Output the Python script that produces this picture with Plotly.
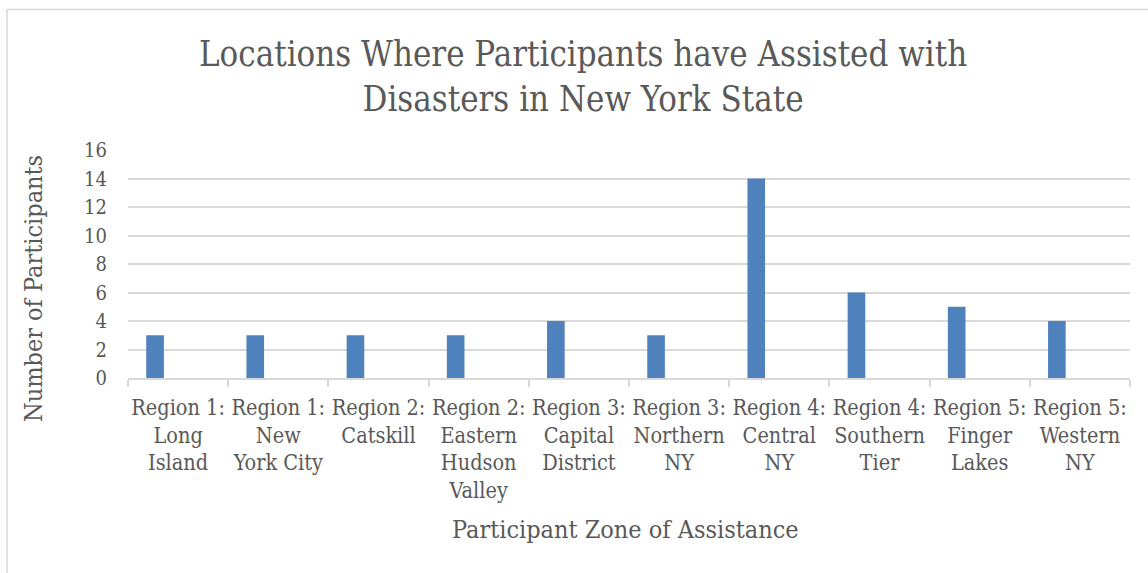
import plotly.graph_objects as go

categories = [
    "Region 1:<br>Long<br>Island",
    "Region 1:<br>New<br>York City",
    "Region 2:<br>Catskill",
    "Region 2:<br>Eastern<br>Hudson<br>Valley",
    "Region 3:<br>Capital<br>District",
    "Region 3:<br>Northern<br>NY",
    "Region 4:<br>Central<br>NY",
    "Region 4:<br>Southern<br>Tier",
    "Region 5:<br>Finger<br>Lakes",
    "Region 5:<br>Western<br>NY",
]
participants = [3, 3, 3, 3, 4, 3, 14, 6, 5, 4]
y_ticks = [0, 2, 4, 6, 8, 10, 12, 14, 16]

FONT = "DejaVu Serif Condensed, DejaVu Serif, Liberation Serif, serif"
TXT = "#595959"
GRID = "#d9d9d9"

fig = go.Figure()
fig.add_trace(go.Bar(
    x=categories, y=participants,
    marker=dict(color="#4f81bd", line=dict(width=0)),
    offset=-0.318, width=0.176,
    hoverinfo="x+y",
))

W, H = 1148, 573
L, R, T, B = 128, 18, 150, 195
pw, ph = W - L - R, H - T - B

def px(x):
    return (x - L) / pw

def py(y):
    return (H - B - y) / ph

fig.update_layout(
    width=W, height=H,
    margin=dict(l=L, r=R, t=T, b=B),
    paper_bgcolor="white", plot_bgcolor="white",
    showlegend=False,
    font=dict(family=FONT, color=TXT),
    xaxis=dict(
        type="category",
        tickson="boundaries",
        ticks="outside", ticklen=7, tickcolor=GRID, tickwidth=1.5,
        showline=True, linecolor=GRID, linewidth=1.5,
        showgrid=False,
        tickfont=dict(size=21.5, color=TXT, family=FONT),
        tickangle=0,
        ticklabelstandoff=9,
    ),
    yaxis=dict(
        range=[0, 16], tickvals=y_ticks,
        showgrid=True, gridcolor=GRID, gridwidth=1.5,
        zeroline=False, showline=False,
        tickfont=dict(size=20, color=TXT, family=FONT),
        ticklabelstandoff=20,
    ),
    annotations=[
        dict(text="Locations Where Participants have Assisted with<br>Disasters in New York State",
             x=px(583), y=py(76), xref="paper", yref="paper", showarrow=False,
             xanchor="center", yanchor="middle",
             font=dict(size=34.5, color=TXT, family=FONT)),
        dict(text="Participant Zone of Assistance",
             x=px(625), y=py(529), xref="paper", yref="paper", showarrow=False,
             xanchor="center", yanchor="middle",
             font=dict(size=25, color=TXT, family=FONT)),
        dict(text="Number of Participants", textangle=-90,
             x=px(33), y=py(289), xref="paper", yref="paper", showarrow=False,
             xanchor="center", yanchor="middle",
             font=dict(size=25, color=TXT, family=FONT)),
    ],
    shapes=[
        dict(type="rect", xref="paper", yref="paper",
             x0=px(7), x1=px(1160), y0=py(9.5), y1=py(590),
             line=dict(color=GRID, width=1.5), fillcolor="rgba(0,0,0,0)", layer="below"),
    ],
)

fig.write_html("out.html")
